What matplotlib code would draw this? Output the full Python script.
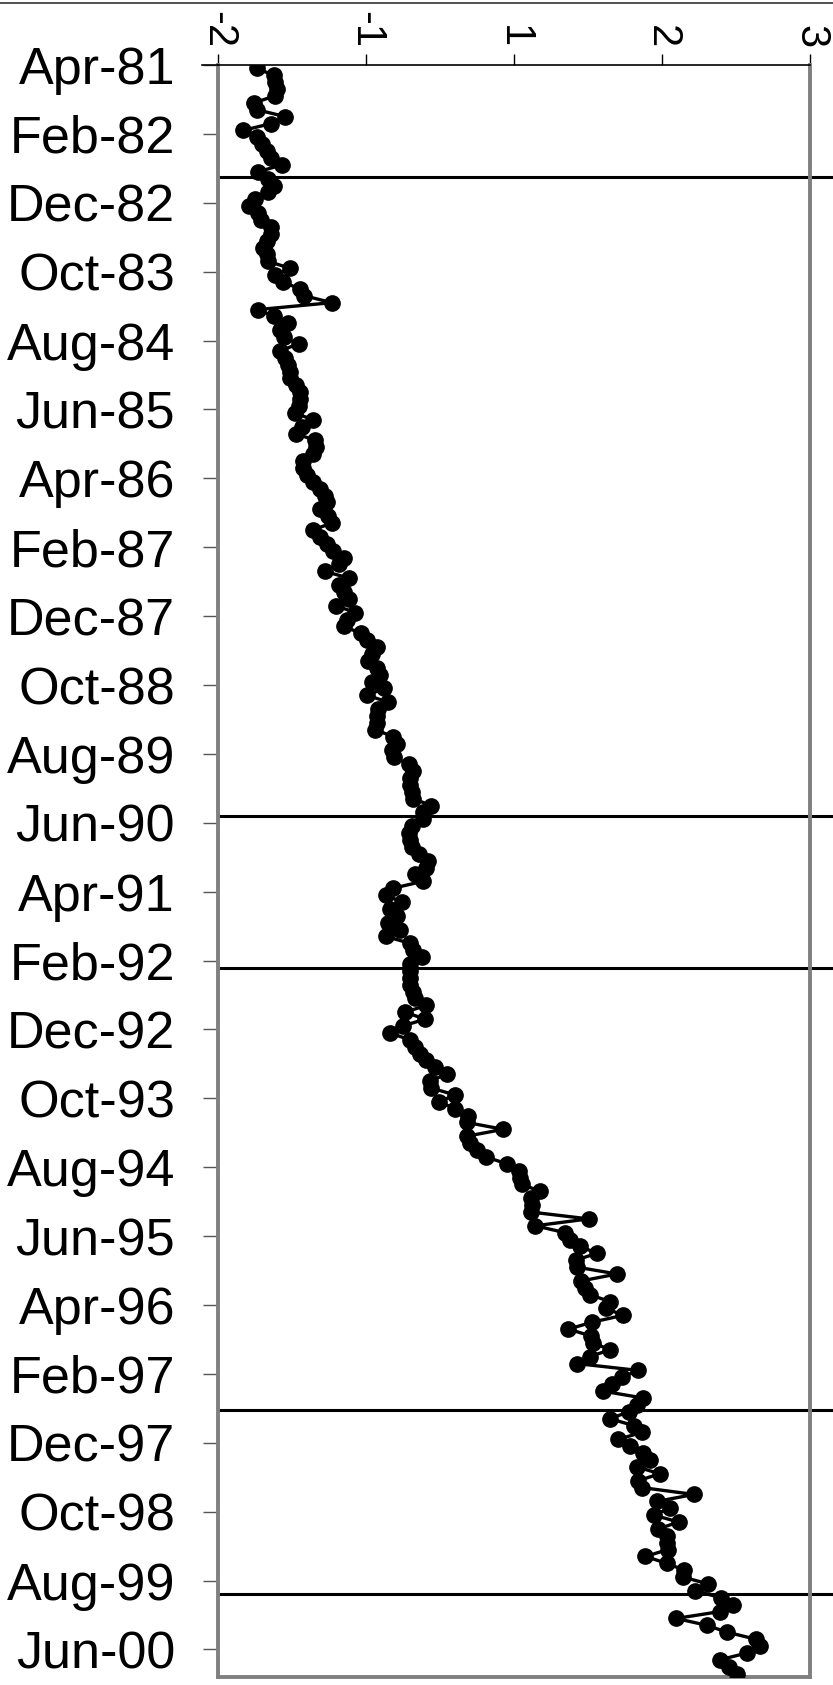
import numpy as np
import pandas as pd
import matplotlib
matplotlib.use("Agg")
import matplotlib.pyplot as plt
from matplotlib.lines import Line2D

# ---- data ----
values = [
    -1.67, -1.53, -1.52, -1.50, -1.52, -1.70, -1.67, -1.43, -1.55, -1.79,
    -1.67, -1.63, -1.59, -1.55, -1.46, -1.66, -1.58, -1.53, -1.58, -1.69,
    -1.74, -1.66, -1.64,
    -1.55, -1.55, -1.59, -1.62, -1.59, -1.58, -1.39, -1.52, -1.45, -1.31,
    -1.27, -1.04, -1.66, -1.53, -1.41, -1.48, -1.44, -1.32, -1.48, -1.43,
    -1.41, -1.39,
    -1.39, -1.34, -1.31, -1.31, -1.32, -1.35, -1.20, -1.29, -1.34, -1.18,
    -1.17, -1.20, -1.28, -1.28, -1.25, -1.20, -1.14, -1.10, -1.08, -1.14,
    -1.07, -1.04, -1.20, -1.14,
    -1.08, -1.03, -0.94, -0.98, -1.10, -0.89, -0.98, -0.94, -0.89, -1.00,
    -0.84, -0.91, -0.94, -0.79, -0.74, -0.66, -0.70, -0.73, -0.66, -0.63,
    -0.70, -0.60, -0.74,
    -0.56, -0.65, -0.66, -0.66, -0.67, -0.52, -0.49, -0.53, -0.51, -0.39,
    -0.35, -0.38, -0.38, -0.36, -0.35, -0.20, -0.27, -0.27, -0.36, -0.39,
    -0.38, -0.36, -0.30, -0.23,
    -0.24, -0.34, -0.27, -0.52, -0.58, -0.45, -0.55, -0.49, -0.56, -0.46,
    -0.58, -0.38, -0.35, -0.28, -0.38, -0.38, -0.38, -0.38, -0.35, -0.34,
    -0.24, -0.42,
    -0.25, -0.44, -0.55, -0.38, -0.34, -0.29, -0.24, -0.17, -0.07, -0.21,
    -0.20, 0.00, -0.13, 0.00, 0.11, 0.10, 0.41, 0.10, 0.13, 0.19,
    0.26, 0.44, 0.54,
    0.55, 0.57, 0.72, 0.64, 0.65, 0.64, 1.13, 0.68, 0.93, 0.97,
    1.06, 1.20, 1.02, 1.03, 1.37, 1.07, 1.10, 1.14, 1.31, 1.28,
    1.42, 1.16, 0.96, 1.15,
    1.17, 1.31, 1.14, 1.03, 1.55, 1.41, 1.33, 1.25, 1.59, 1.54,
    1.47, 1.31, 1.51, 1.58, 1.38, 1.48, 1.59, 1.65, 1.54, 1.73,
    1.55, 1.58, 2.02, 1.71,
    1.82, 1.68, 1.89, 1.72, 1.79, 1.79, 1.80, 1.61, 1.79, 1.94,
    1.93, 2.14, 2.03, 2.25, 2.35, 2.24, 1.87, 2.13, 2.30, 2.54,
    2.58, 2.47, 2.24, 2.32, 2.38,
]
months = pd.date_range("1981-04-01", periods=len(values), freq="MS")
month_labels = [d.strftime("%b-%y") for d in months]
label_step = 10
event_positions = [16.3, 109.0, 131.1, 195.2, 222.0]   # month-index of the event lines
x_ticks = [-2, -0.75, 0.5, 1.75, 3]
x_tick_labels = ["-2", "-1", "1", "2", "3"]

# ---- figure ----
plt.rcParams['font.family'] = ['Liberation Sans', 'DejaVu Sans']
W, H = 833, 1685
fig = plt.figure(figsize=(W / 100, H / 100), dpi=100)
L, R, T, B = 218, 810, 65, 1677
ax = fig.add_axes([L / W, 1 - B / H, (R - L) / W, (B - T) / H])

ypos = np.arange(len(values)) + 0.5
ax.plot(values, ypos, color='black', lw=2.4, marker='o', ms=11,
        mfc='black', mec='black', zorder=3)

for yv in event_positions:
    ax.axhline(yv, xmin=0, xmax=1.1, color='black', lw=2.2, clip_on=False, zorder=2)

ax.set_xlim(-2, 3)
ax.set_ylim(len(values), 0)

ax.set_yticks(np.arange(0, len(values), label_step))
ax.set_yticklabels(month_labels[::label_step], fontsize=37.5)
ax.tick_params(axis='y', direction='out', length=11, width=1, color='#555555', pad=20)

ax.xaxis.tick_top()
ax.set_xticks(x_ticks)
ax.set_xticklabels(x_tick_labels, rotation=-90, fontsize=30)
ax.tick_params(axis='x', direction='out', length=8, width=1, color='black', pad=4)

for s in ['left', 'right', 'bottom']:
    ax.spines[s].set_color('#808080')
    ax.spines[s].set_linewidth(2.8)
ax.spines['top'].set_color('black')
ax.spines['top'].set_linewidth(1.2)

# small extension of the top axis line and the border line at the very top
fig.add_artist(Line2D([202 / W, L / W], [1 - T / H] * 2, color='black', lw=1.2))
fig.add_artist(Line2D([0, 1], [1 - 3 / H] * 2, color='#333333', lw=1.2))

fig.savefig('out.png', dpi=100)
